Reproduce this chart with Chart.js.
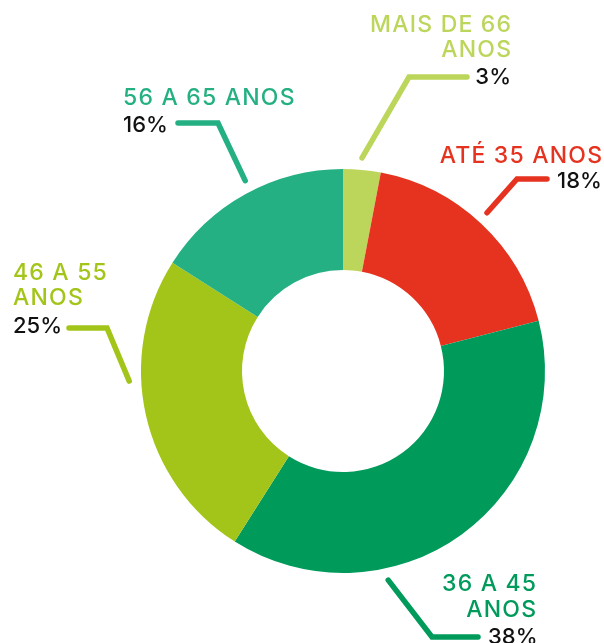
<!DOCTYPE html>
<html>
<head>
<meta charset="utf-8">
<script src="https://cdn.jsdelivr.net/npm/chart.js@4/dist/chart.umd.min.js"></script>
<style>
  html, body { margin: 0; padding: 0; background: #fff; }
  #wrap { width: 604px; height: 643px; position: relative; }
</style>
</head>
<body>
<div id="wrap"><canvas id="c"></canvas></div>
<script>
// ---- data ----
const categories = ['MAIS DE 66 ANOS', 'ATÉ 35 ANOS', '36 A 45 ANOS', '46 A 55 ANOS', '56 A 65 ANOS'];
const values = [3, 18, 38, 25, 16];
const labelLines = [['MAIS DE 66', 'ANOS'], ['ATÉ 35 ANOS'], ['36 A 45', 'ANOS'], ['46 A 55', 'ANOS'], ['56 A 65 ANOS']];
const colors = ['#bcd65b', '#e5331f', '#009a5b', '#a3c51a', '#25b084'];

// ---- label layout (annotation positions) ----
const labelLayout = [
  { ang: 5.1,   elbow: [409, 77],  end: [467, 77],  align: 'right', tx: 511, lines: [32, 57], pct: { align: 'right', x: 511, y: 84 } },
  { ang: 42.3,  elbow: [517, 179], end: [547, 179], align: 'right', tx: 602, lines: [163],    pct: { align: 'left',  x: 557, y: 188 } },
  { ang: 167.8, elbow: [432, 637], end: [478, 637], align: 'right', tx: 536, lines: [591, 617], pct: { align: 'left', x: 488, y: 644 } },
  { ang: 267.3, elbow: [107, 328], end: [69, 328],  align: 'left',  tx: 13,  lines: [280, 305], pct: { align: 'left', x: 13, y: 333 } },
  { ang: 332.8, elbow: [218, 123], end: [178, 123], align: 'left',  tx: 123, lines: [105],    pct: { align: 'left',  x: 123, y: 132 } }
];

const FONT = '500 23px Inter, "Open Sans", sans-serif';
const PCT_FONT = '500 22px Inter, "Open Sans", sans-serif';
const SPACING = 1.2;

const labelPlugin = {
  id: 'leaderLabels',
  afterDraw(chart) {
    const ctx = chart.ctx;
    const meta = chart.getDatasetMeta(0);
    ctx.save();
    meta.data.forEach((arc, i) => {
      const L = labelLayout[i];
      const a = (L.ang - 90) * Math.PI / 180;
      const r = arc.outerRadius + 12;
      const sx = arc.x + r * Math.cos(a);
      const sy = arc.y + r * Math.sin(a);
      ctx.strokeStyle = colors[i];
      ctx.lineWidth = 5.5;
      ctx.lineCap = 'round';
      ctx.lineJoin = 'miter';
      ctx.beginPath();
      ctx.moveTo(sx, sy);
      ctx.lineTo(L.elbow[0], L.elbow[1]);
      ctx.lineTo(L.end[0], L.end[1]);
      ctx.stroke();

      ctx.font = FONT;
      ctx.textBaseline = 'alphabetic';
      ctx.fillStyle = colors[i];
      ctx.textAlign = L.align;
      ctx.letterSpacing = SPACING + 'px';
      const dx = L.align === 'right' ? SPACING : 0;
      labelLines[i].forEach((t, k) => ctx.fillText(t, L.tx + dx, L.lines[k]));
      ctx.letterSpacing = '0px';
      ctx.font = PCT_FONT;
      ctx.fillStyle = '#111';
      ctx.textAlign = L.pct.align;
      ctx.fillText(values[i] + '%', L.pct.x, L.pct.y);
    });
    ctx.restore();
  }
};

new Chart(document.getElementById('c'), {
  type: 'doughnut',
  data: {
    labels: categories,
    datasets: [{
      data: values,
      backgroundColor: colors,
      borderWidth: 0,
      hoverOffset: 0
    }]
  },
  options: {
    responsive: true,
    maintainAspectRatio: false,
    animation: false,
    cutout: '50%',
    layout: { padding: { left: 141, right: 59, top: 169, bottom: 70 } },
    plugins: { legend: { display: false }, tooltip: { enabled: false } }
  },
  plugins: [labelPlugin]
});
</script>
</body>
</html>
